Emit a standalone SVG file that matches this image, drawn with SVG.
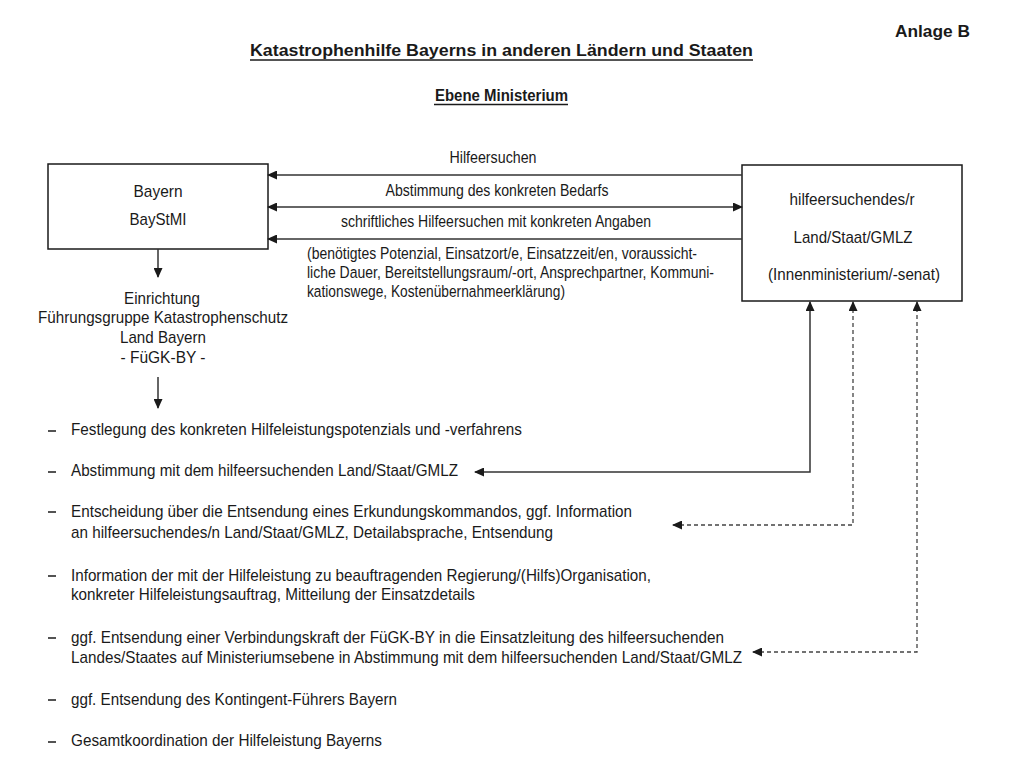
<svg xmlns="http://www.w3.org/2000/svg" width="1024" height="768" viewBox="0 0 1024 768">
<style>
text{font-family:"Liberation Sans",Arial,sans-serif;fill:#1a1a1a;font-size:17px}
.b{font-weight:bold}
.c{text-anchor:middle}
.box{fill:#fff;stroke:#1a1a1a;stroke-width:1.5}
.ln{fill:none;stroke:#333;stroke-width:1.5}
.dl{fill:none;stroke:#444;stroke-width:1.3;stroke-dasharray:4 3}
.ul{stroke:#1a1a1a;stroke-width:1.5}
</style>
<defs>
<marker id="ah" markerUnits="userSpaceOnUse" markerWidth="10" markerHeight="9" refX="9" refY="4.5" orient="auto-start-reverse" viewBox="0 0 10 9">
<path d="M0,0 L10,4.5 L0,9 z" fill="#1a1a1a"/>
</marker>
</defs>
<rect width="1024" height="768" fill="#fff"/>

<g id="header">
<text class="b" x="895" y="37" font-size="20.5" textLength="75" lengthAdjust="spacingAndGlyphs">Anlage B</text>
<text class="b" x="250" y="56" font-size="19.5" textLength="503" lengthAdjust="spacingAndGlyphs">Katastrophenhilfe Bayerns in anderen Ländern und Staaten</text>
<line class="ul" x1="250" y1="60" x2="753" y2="60"/>
<text class="b" x="435" y="101" font-size="16.5" textLength="133" lengthAdjust="spacingAndGlyphs">Ebene Ministerium</text>
<line class="ul" x1="434" y1="104.5" x2="568" y2="104.5"/>
</g>

<g id="node-bayern">
<rect class="box" x="48" y="164" width="220" height="85"/>
<text class="c" x="158" y="197" textLength="49" lengthAdjust="spacingAndGlyphs">Bayern</text>
<text class="c" x="158" y="225" textLength="57" lengthAdjust="spacingAndGlyphs">BayStMI</text>
</g>

<g id="node-hilfeersuchend">
<rect class="box" x="742" y="165" width="220" height="136"/>
<text class="c" x="852" y="205" textLength="125" lengthAdjust="spacingAndGlyphs">hilfeersuchendes/r</text>
<text class="c" x="853" y="243" textLength="119" lengthAdjust="spacingAndGlyphs">Land/Staat/GMLZ</text>
<text class="c" x="854" y="280" textLength="172" lengthAdjust="spacingAndGlyphs">(Innenministerium/-senat)</text>
</g>

<g id="node-fuegk">
<text class="c" x="162" y="304" textLength="76" lengthAdjust="spacingAndGlyphs">Einrichtung</text>
<text class="c" x="163" y="323" textLength="250" lengthAdjust="spacingAndGlyphs">Führungsgruppe Katastrophenschutz</text>
<text class="c" x="163" y="343" textLength="86" lengthAdjust="spacingAndGlyphs">Land Bayern</text>
<text class="c" x="163" y="363" textLength="85" lengthAdjust="spacingAndGlyphs">- FüGK-BY -</text>
</g>

<g id="labels">
<text class="c" x="493" y="163" textLength="87" lengthAdjust="spacingAndGlyphs">Hilfeersuchen</text>
<text class="c" x="497" y="196" textLength="223" lengthAdjust="spacingAndGlyphs">Abstimmung des konkreten Bedarfs</text>
<text class="c" x="496" y="227" textLength="310" lengthAdjust="spacingAndGlyphs">schriftliches Hilfeersuchen mit konkreten Angaben</text>
<g transform="translate(307,0) scale(0.82,1)">
<text x="0" y="259" textLength="475.6" lengthAdjust="spacingAndGlyphs">(benötigtes Potenzial, Einsatzort/e, Einsatzzeit/en, voraussicht-</text>
<text x="0" y="278" textLength="496.3" lengthAdjust="spacingAndGlyphs">liche Dauer, Bereitstellungsraum/-ort, Ansprechpartner, Kommuni-</text>
<text x="0" y="297" textLength="314.6" lengthAdjust="spacingAndGlyphs">kationswege, Kostenübernahmeerklärung)</text>
</g>
</g>

<g id="node-aufgaben">
<g class="dash">
<line class="ul" x1="48" y1="431" x2="56" y2="431"/>
<line class="ul" x1="48" y1="472" x2="56" y2="472"/>
<line class="ul" x1="48" y1="512" x2="56" y2="512"/>
<line class="ul" x1="48" y1="576" x2="56" y2="576"/>
<line class="ul" x1="48" y1="638" x2="56" y2="638"/>
<line class="ul" x1="48" y1="700" x2="56" y2="700"/>
<line class="ul" x1="48" y1="742" x2="56" y2="742"/>
</g>
<text x="71" y="435" textLength="451" lengthAdjust="spacingAndGlyphs">Festlegung des konkreten Hilfeleistungspotenzials und -verfahrens</text>
<text x="71" y="476" textLength="387" lengthAdjust="spacingAndGlyphs">Abstimmung mit dem hilfeersuchenden Land/Staat/GMLZ</text>
<text x="71" y="517" textLength="561" lengthAdjust="spacingAndGlyphs">Entscheidung über die Entsendung eines Erkundungskommandos, ggf. Information</text>
<text x="71" y="538" textLength="482" lengthAdjust="spacingAndGlyphs">an hilfeersuchendes/n Land/Staat/GMLZ, Detailabsprache, Entsendung</text>
<text x="71" y="581" textLength="580" lengthAdjust="spacingAndGlyphs">Information der mit der Hilfeleistung zu beauftragenden Regierung/(Hilfs)Organisation,</text>
<text x="71" y="600" textLength="404" lengthAdjust="spacingAndGlyphs">konkreter Hilfeleistungsauftrag, Mitteilung der Einsatzdetails</text>
<text x="71" y="643" textLength="653" lengthAdjust="spacingAndGlyphs">ggf. Entsendung einer Verbindungskraft der FüGK-BY in die Einsatzleitung des hilfeersuchenden</text>
<text x="71" y="663" textLength="671" lengthAdjust="spacingAndGlyphs">Landes/Staates auf Ministeriumsebene in Abstimmung mit dem hilfeersuchenden Land/Staat/GMLZ</text>
<text x="71" y="705" textLength="326" lengthAdjust="spacingAndGlyphs">ggf. Entsendung des Kontingent-Führers Bayern</text>
<text x="71" y="746" textLength="311" lengthAdjust="spacingAndGlyphs">Gesamtkoordination der Hilfeleistung Bayerns</text>
</g>

<g id="connectors">
<line class="ln" x1="742" y1="175" x2="268" y2="175" marker-end="url(#ah)"/>
<line class="ln" x1="268" y1="207" x2="742" y2="207" marker-start="url(#ah)" marker-end="url(#ah)"/>
<line class="ln" x1="742" y1="239" x2="268" y2="239" marker-end="url(#ah)"/>
<line class="ln" x1="158" y1="249" x2="158" y2="277" marker-end="url(#ah)"/>
<line class="ln" x1="158" y1="377" x2="158" y2="408" marker-end="url(#ah)"/>
<path class="ln" d="M475,472 H810 V302" stroke="#555" marker-start="url(#ah)" marker-end="url(#ah)"/>
<path class="dl" d="M673,525 H853 V302" marker-start="url(#ah)" marker-end="url(#ah)"/>
<path class="dl" d="M753,652 H917 V302" marker-start="url(#ah)" marker-end="url(#ah)"/>
</g>
</svg>
